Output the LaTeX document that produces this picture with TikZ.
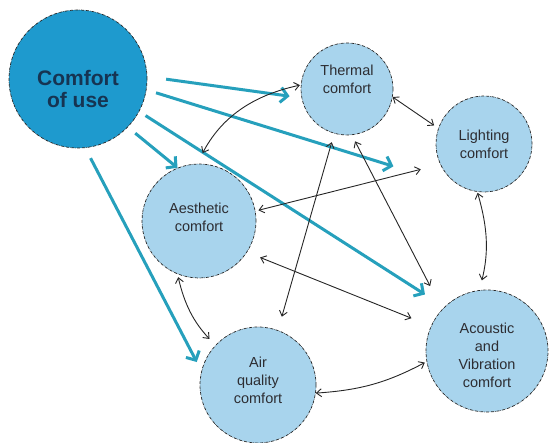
\documentclass[tikz,border=0pt]{standalone}
\usepackage{fontspec}
\setmainfont{Liberation Sans}
\usepackage{tikz}
\usetikzlibrary{arrows.meta,positioning}

\definecolor{coublue}{RGB}{30,154,206}
\definecolor{bubblue}{RGB}{168,212,237}
\definecolor{tealline}{RGB}{38,160,188}
\definecolor{navytext}{RGB}{22,52,82}
\definecolor{greytext}{RGB}{45,45,50}

\begin{document}
\begin{tikzpicture}[x=1pt, y=-1pt,
    bub/.style={circle, draw=black!85, densely dash dot, line width=0.7pt, fill=bubblue, inner sep=0pt},
    txt/.style={align=center, text=greytext, font=\fontsize{14.5}{18}\selectfont},
    big/.style={align=center, text=navytext, font=\bfseries\fontsize{21}{22.5}\selectfont},
    tealarr/.style={-{Straight Barb[length=7pt,width=15pt]}, line width=3pt, color=tealline},
    dbl/.style={{Straight Barb[length=5pt,width=8pt]}-{Straight Barb[length=5pt,width=8pt]}, line width=0.9pt, black!85}]
      \useasboundingbox (0,0) rectangle (549,443);

      \node[bub, fill=coublue, minimum size=138pt, label={[big,yshift=-10pt]center:Comfort\\of use}] (cou) at (78,79) {};
      \node[bub, minimum size=92pt, label={[txt,yshift=10pt]center:Thermal\\comfort}] (therm) at (347,89) {};
      \node[bub, minimum size=96pt, label={[txt]center:Lighting\\comfort}] (light) at (484,144) {};
      \node[bub, minimum size=114pt, label={[txt,yshift=4pt]center:Aesthetic\\comfort}] (aesth) at (199,221) {};
      \node[bub, minimum size=116pt, label={[txt,yshift=5pt]center:Air\\quality\\comfort}] (airq) at (258,385) {};
      \node[bub, minimum size=122pt, label={[txt,yshift=-4pt]center:Acoustic\\and\\Vibration\\comfort}] (acoust) at (487,351) {};

      \draw[tealarr, shorten <=19pt, shorten >=12pt] (cou.2) -- (therm.191);
      \draw[tealarr, shorten <=10pt, shorten >=75pt] (cou.-9) -- (light.247);
      \draw[tealarr, shorten <=7.5pt, shorten >=23pt] (cou.-28.5) -- (acoust.134);
      \draw[tealarr, shorten <=9.5pt] (cou.-44) -- (aesth.112);
      \draw[tealarr, shorten <=11.5pt, shorten >=10pt] (cou.-84.5) -- (airq.166);

      \draw[dbl, shorten <=12pt, shorten >=1pt] (aesth.92) to[bend left=25] (therm.175);
      \draw[dbl, shorten >=5pt] (therm.-10) -- (light.161);
      \draw[dbl, shorten <=1pt, shorten >=10pt] (light.262) to[bend left=15] (acoust.97);
      \draw[dbl, shorten <=3pt, shorten >=8.5pt] (aesth.248.6) to[bend right=15] (airq.137.4);
      \draw[dbl, shorten >=2pt] (airq.-8) to[bend right=12] (acoust.190);
      \draw[dbl, shorten <=3pt, shorten >=20pt] (aesth.10.6) -- (light.205);
      \draw[dbl, shorten <=14pt, shorten >=21pt] (aesth.-33.5) -- (acoust.156.3);
      \draw[dbl, shorten <=9pt, shorten >=14pt] (therm.254) -- (airq.70.6);
      \draw[dbl, shorten <=7pt, shorten >=26pt] (therm.-84.6) -- (acoust.137.3);
    \end{tikzpicture}
\end{document}
